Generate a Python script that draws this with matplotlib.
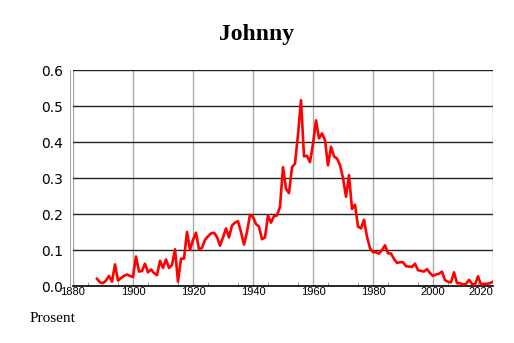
import numpy as np
import matplotlib
matplotlib.use("Agg")
import matplotlib.pyplot as plt
from matplotlib.ticker import FixedLocator

title = "Johnny"
ylabel = "Prosent"

first_year = 1888
values = [
    0.020, 0.010, 0.008, 0.015, 0.028, 0.012, 0.060, 0.015, 0.022, 0.028,  # 1888-1897
    0.032, 0.028, 0.025, 0.082, 0.040, 0.042, 0.062, 0.038, 0.046, 0.036,  # 1898-1907
    0.030, 0.070, 0.050, 0.074, 0.050, 0.058, 0.102, 0.012, 0.076, 0.076,  # 1908-1917
    0.150, 0.100, 0.128, 0.148, 0.102, 0.106, 0.128, 0.138, 0.146, 0.148,  # 1918-1927
    0.136, 0.112, 0.135, 0.160, 0.135, 0.168, 0.176, 0.180, 0.150, 0.115,  # 1928-1937
    0.150, 0.198, 0.192, 0.172, 0.165, 0.130, 0.135, 0.196, 0.176, 0.194,  # 1938-1947
    0.196, 0.220, 0.330, 0.270, 0.258, 0.330, 0.340, 0.420, 0.516, 0.360,  # 1948-1957
    0.362, 0.344, 0.395, 0.460, 0.410, 0.424, 0.405, 0.335, 0.387, 0.360,  # 1958-1967
    0.354, 0.336, 0.300, 0.248, 0.308, 0.214, 0.226, 0.165, 0.160, 0.184,  # 1968-1977
    0.137, 0.105, 0.094, 0.094, 0.090, 0.100, 0.113, 0.091, 0.090, 0.075,  # 1978-1987
    0.064, 0.066, 0.066, 0.055, 0.054, 0.053, 0.062, 0.044, 0.042, 0.040,  # 1988-1997
    0.047, 0.036, 0.028, 0.032, 0.034, 0.040, 0.016, 0.012, 0.010, 0.038,  # 1998-2007
    0.008, 0.008, 0.004, 0.006, 0.017, 0.006, 0.004, 0.027, 0.004, 0.006,  # 2008-2017
    0.006, 0.008, 0.012,                                                    # 2018-2020
]
years = np.arange(first_year, first_year + len(values))

xticks = list(range(1880, 2021, 20))
yticks = [0.0, 0.1, 0.2, 0.3, 0.4, 0.5, 0.6]

fig = plt.figure(figsize=(5.14, 3.43), dpi=100)
ax = fig.add_axes([73 / 514, 57 / 343, 420 / 514, 216 / 343])

ax.plot(years, values, color="#ff0000", linewidth=1.9, zorder=3)

ax.set_xlim(1880, 2020)
ax.set_ylim(0, 0.6)
ax.set_xticks(xticks)
ax.set_yticks(yticks)
ax.set_yticklabels([f"{v:.1f}" for v in yticks], fontsize=8, family="Liberation Sans")
ax.set_xticklabels([str(x) for x in xticks], fontsize=8, family="Liberation Sans")
ax.get_xticklabels()[-1].set_horizontalalignment("right")
ax.xaxis.set_minor_locator(FixedLocator(list(range(1885, 2020, 10))))

ax.tick_params(axis="y", length=0, pad=5)
ax.tick_params(axis="x", which="major", length=0, pad=1)
ax.tick_params(axis="x", which="minor", length=3, direction="in", color="#888888")

for x in xticks:
    ax.axvline(x, color="#aaaaaa", linewidth=1.0, zorder=1)
for y in yticks[1:]:
    ax.axhline(y, color="#222222", linewidth=1.0, zorder=2)

for s in ["top", "right"]:
    ax.spines[s].set_visible(False)
ax.spines["left"].set_color("#aaaaaa")
ax.spines["left"].set_position(("outward", 2))
ax.spines["bottom"].set_color("black")
ax.spines["bottom"].set_linewidth(1.2)

fig.text(0.499, 0.898, title, ha="center", va="center", fontsize=17,
         fontweight="bold", family="Liberation Serif")
fig.text(30 / 514, 1 - 318 / 343, ylabel, ha="left", va="center", fontsize=11,
         family="Liberation Serif")

fig.savefig("out.png", dpi=100)
